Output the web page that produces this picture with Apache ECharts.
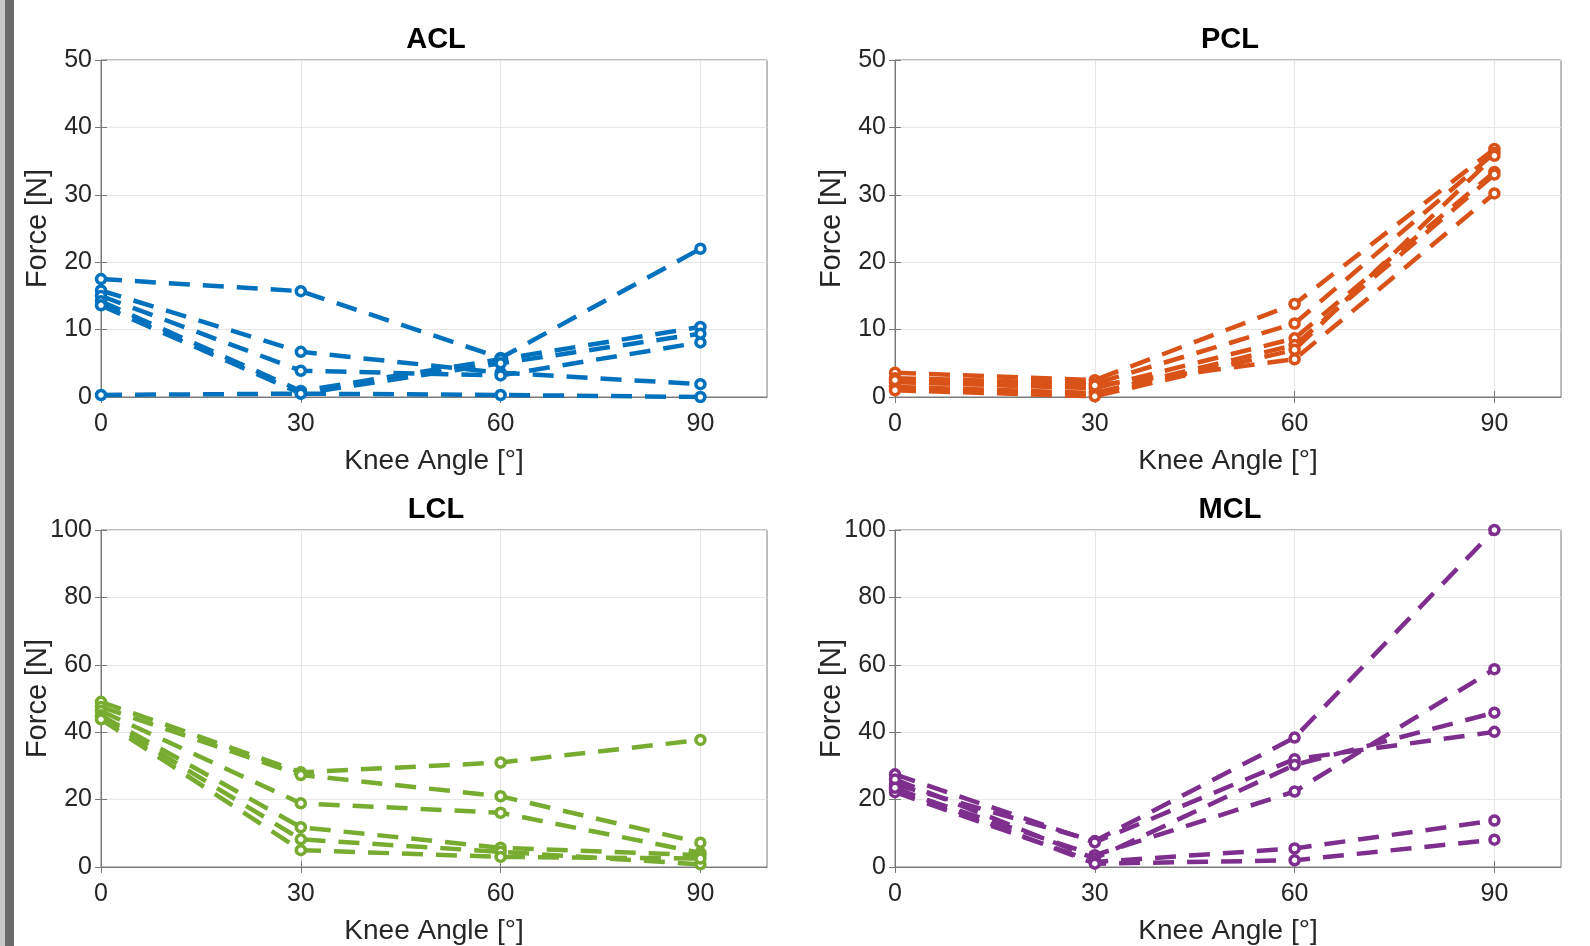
<!DOCTYPE html>
<html>
<head>
<meta charset="utf-8">
<script src="https://cdn.jsdelivr.net/npm/echarts@6/dist/echarts.min.js"></script>
<style>
  html, body { margin: 0; padding: 0; background: #fff; }
  #chart { width: 1590px; height: 946px; }
</style>
</head>
<body>
<div id="chart"></div>
<script>
// knee flexion angles
const angles = [0, 30, 60, 90];

// ligament forces [N], one row per specimen
const aclForce = [
  [17.5, 15.7, 5.8, 22.0],
  [15.8, 6.7, 3.6, 1.9],
  [15.0, 3.9, 3.2, 8.1],
  [14.2, 0.9, 5.6, 10.4],
  [13.6, 0.5, 5.0, 9.4],
  [0.3, 0.5, 0.3, 0.0]
];
const pclForce = [
  [3.6, 2.5, 13.8, 36.8],
  [2.8, 2.0, 10.9, 36.2],
  [2.2, 1.3, 8.7, 33.4],
  [1.5, 0.6, 7.7, 33.0],
  [1.0, 0.1, 7.0, 35.8],
  [2.5, 1.7, 5.6, 30.2]
];
const lclForce = [
  [49.0, 28.1, 31.0, 37.7],
  [47.5, 27.3, 21.0, 7.2],
  [46.3, 18.9, 16.1, 4.2],
  [45.0, 11.8, 5.7, 3.5],
  [44.5, 8.2, 4.5, 0.8],
  [43.8, 5.0, 3.0, 2.5]
];
const mclForce = [
  [24.5, 7.7, 38.4, 100.0],
  [27.5, 7.3, 32.0, 40.1],
  [23.0, 3.5, 22.4, 58.7],
  [26.0, 2.5, 30.3, 45.8],
  [22.2, 1.5, 5.5, 13.8],
  [23.5, 1.0, 2.0, 8.1]
];

const panels = [
  { title: 'ACL', data: aclForce, color: '#0072BD', yMax: 50, yStep: 10, left: 101, top: 60 },
  { title: 'PCL', data: pclForce, color: '#D95319', yMax: 50, yStep: 10, left: 895, top: 60 },
  { title: 'LCL', data: lclForce, color: '#77AC30', yMax: 100, yStep: 20, left: 101, top: 530 },
  { title: 'MCL', data: mclForce, color: '#7E2F8E', yMax: 100, yStep: 20, left: 895, top: 530 }
];

const font = "'Liberation Sans', Arial, Helvetica, sans-serif";
const boxColor = '#7a7a7a';
const textColor = '#262626';
const plotW = 666, plotH = 337;

const grid = [], xAxis = [], yAxis = [], series = [], title = [];

panels.forEach((p, i) => {
  grid.push({
    left: p.left, top: p.top, width: plotW, height: plotH,
    show: true, borderColor: boxColor, borderWidth: 1, backgroundColor: '#fff'
  });
  title.push({
    text: p.title,
    left: p.left + plotW / 2 - 3,
    top: p.top - 40,
    textAlign: 'center',
    textStyle: { fontFamily: font, fontSize: 29, fontWeight: 'bold', color: '#000' }
  });
  // bottom x axis
  xAxis.push({
    gridIndex: i, type: 'value', min: 0, max: 100, interval: 30,
    name: 'Knee Angle [°]', nameLocation: 'middle', nameGap: 50, nameMoveOverlap: false,
    nameTextStyle: { fontFamily: font, fontSize: 28, color: textColor },
    axisLine: { show: true, lineStyle: { color: boxColor, width: 1 } },
    axisTick: { show: true, inside: true, length: 6, customValues: angles, lineStyle: { color: boxColor } },
    axisLabel: {
      margin: 15, fontFamily: font, fontSize: 25, color: textColor,
      customValues: angles,
      formatter: v => (v === 100 ? '' : String(v))
    },
    splitLine: { show: true, lineStyle: { color: '#e6e6e6', width: 1 } }
  });
  // top x axis, ticks only
  xAxis.push({
    gridIndex: i, type: 'value', min: 0, max: 100, interval: 30, position: 'top',
    axisLine: { show: false },
    axisTick: { show: true, inside: true, length: 6, customValues: angles, lineStyle: { color: boxColor } },
    axisLabel: { show: false }, splitLine: { show: false }
  });
  // left y axis
  yAxis.push({
    gridIndex: i, type: 'value', min: 0, max: p.yMax, interval: p.yStep,
    name: 'Force [N]', nameLocation: 'middle', nameGap: 49, nameRotate: 90, nameMoveOverlap: false,
    nameTextStyle: { fontFamily: font, fontSize: 29, color: textColor },
    axisLine: { show: true, lineStyle: { color: boxColor, width: 1 } },
    axisTick: { show: true, inside: true, length: 6, lineStyle: { color: boxColor } },
    axisLabel: { margin: 9, fontFamily: font, fontSize: 25, color: textColor },
    splitLine: { show: true, lineStyle: { color: '#e6e6e6', width: 1 } }
  });
  // right y axis, ticks only
  yAxis.push({
    gridIndex: i, type: 'value', min: 0, max: p.yMax, interval: p.yStep, position: 'right',
    axisLine: { show: false },
    axisTick: { show: true, inside: true, length: 6, lineStyle: { color: boxColor } },
    axisLabel: { show: false }, splitLine: { show: false }
  });

  p.data.forEach(row => {
    series.push({
      type: 'line',
      xAxisIndex: i * 2,
      yAxisIndex: i * 2,
      data: angles.map((a, k) => [a, row[k]]),
      symbol: 'circle',
      symbolSize: 9,
      showAllSymbol: true,
      lineStyle: { color: p.color, width: 4.5, type: [21, 13] },
      itemStyle: { color: '#fff', borderColor: p.color, borderWidth: 3.5 },
      emphasis: { disabled: true },
      animation: false,
      z: 3
    });
  });
});

const chart = echarts.init(document.getElementById('chart'));
chart.setOption({
  backgroundColor: '#fff',
  animation: false,
  title, grid, xAxis, yAxis, series,
  graphic: [
    { type: 'rect', left: 0, top: 0, shape: { width: 5, height: 946 }, style: { fill: '#c8c8c8' } },
    { type: 'rect', left: 5, top: 0, shape: { width: 9, height: 946 }, style: { fill: '#6a6a6a' } }
  ]
});
</script>
</body>
</html>
